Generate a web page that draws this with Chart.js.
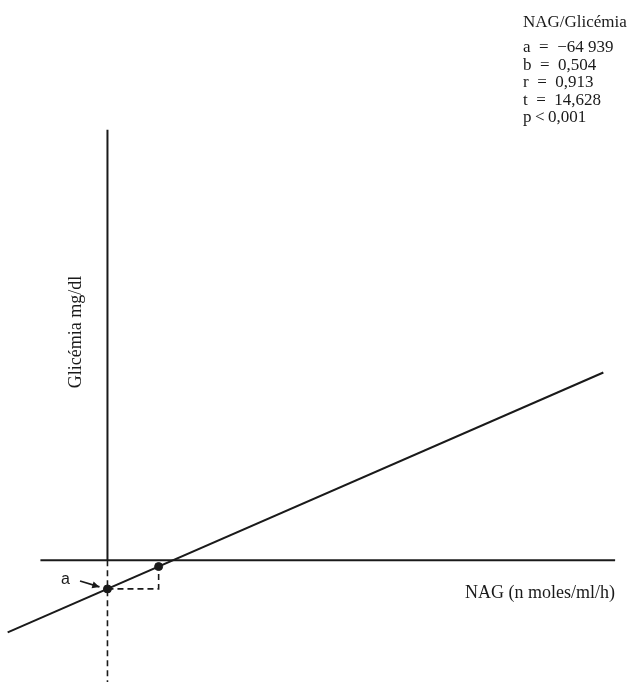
<!DOCTYPE html>
<html><head><meta charset="utf-8">
<script src="https://cdn.jsdelivr.net/npm/chart.js@4"></script>
<style>html,body{margin:0;padding:0;background:#fff;} canvas{display:block}</style>
</head><body>
<canvas id="c" width="632" height="682"></canvas>
<script>
// regression parameters (from the legend)
const coefA = -64.939;
const coefB = 0.504;
const statLines = ["NAG/Glicémia", "a  =  \u221264 939", "b  =  0,504", "r  =  0,913", "t  =  14,628", "p\u2009<\u20090,001"];
// regression line end points
const lineX = [-195, 969];
const lineY = [-163.2, 423.4];
// marked points (intercept a and a second point)
const pointX = [0, 100];
const pointY = [-64.939, -14.5];
const xAxisTitle = "NAG (n moles/ml/h)";
const yAxisTitle = "Glicémia mg/dl";
const interceptLabel = "a";

const ink = '#1a1a1a';
const serif = '"Liberation Serif", "Times New Roman", serif';

const textPlugin = {
  id: 'texts',
  afterDatasetsDraw(chart) {
    const ctx = chart.ctx;
    const xs = chart.scales.x, ys = chart.scales.y;
    ctx.save();
    ctx.fillStyle = ink;
    ctx.textBaseline = 'alphabetic';
    ctx.textAlign = 'left';
    ctx.font = '17px ' + serif;
    const base = [27, 52, 70, 87, 105, 122];
    statLines.forEach((t, i) => ctx.fillText(t, 523, base[i]));
    // x title
    ctx.font = '18px ' + serif;
    ctx.fillText(xAxisTitle, 465, 598);
    // y title
    ctx.save();
    ctx.translate(81, 332);
    ctx.rotate(-Math.PI / 2);
    ctx.textAlign = 'center';
    ctx.fillText(yAxisTitle, 0, 0);
    ctx.restore();
    // intercept label and arrow
    ctx.font = '16px "Liberation Sans", Arial, sans-serif';
    ctx.fillText(interceptLabel, 61, 584);
    const px = xs.getPixelForValue(pointX[0]), py = ys.getPixelForValue(pointY[0]);
    const x0 = 80, y0 = 581, x1 = px - 8, y1 = py - 2;
    ctx.strokeStyle = ink; ctx.lineWidth = 1.8;
    ctx.beginPath(); ctx.moveTo(x0, y0); ctx.lineTo(x1, y1); ctx.stroke();
    const ang = Math.atan2(y1 - y0, x1 - x0);
    ctx.beginPath();
    ctx.moveTo(x1, y1);
    ctx.lineTo(x1 - 8 * Math.cos(ang - 0.45), y1 - 8 * Math.sin(ang - 0.45));
    ctx.lineTo(x1 - 8 * Math.cos(ang + 0.45), y1 - 8 * Math.sin(ang + 0.45));
    ctx.closePath(); ctx.fill();
    ctx.restore();
  }
};

const solid = (pts, w) => ({ data: pts, showLine: true, borderColor: ink, borderWidth: w, pointRadius: 0, fill: false });
const dashed = (pts) => ({ data: pts, showLine: true, borderColor: ink, borderWidth: 1.6, borderDash: [6, 4], pointRadius: 0, fill: false });

new Chart(document.getElementById('c'), {
  type: 'scatter',
  data: {
    datasets: [
      solid(lineX.map((x, i) => ({ x, y: lineY[i] })), 2),
      solid([{ x: -131, y: 0 }, { x: 992, y: 0 }], 2),
      solid([{ x: 0, y: 971 }, { x: 0, y: 0 }], 2),
      dashed([{ x: 0, y: 0 }, { x: 0, y: -275 }]),
      dashed([{ x: pointX[0], y: pointY[0] }, { x: pointX[1], y: pointY[0] }, { x: pointX[1], y: 0 }]),
      { data: pointX.map((x, i) => ({ x, y: pointY[i] })), showLine: false, pointRadius: 4, pointBackgroundColor: ink, pointBorderColor: ink }
    ]
  },
  options: {
    responsive: false, animation: false, devicePixelRatio: 1,
    layout: { padding: 0, autoPadding: false },
    scales: {
      x: { type: 'linear', min: -210, max: 1025, display: false },
      y: { type: 'linear', min: -275, max: 1264, display: false }
    },
    plugins: { legend: { display: false }, tooltip: { enabled: false } }
  },
  plugins: [textPlugin]
});
</script>
</body></html>
